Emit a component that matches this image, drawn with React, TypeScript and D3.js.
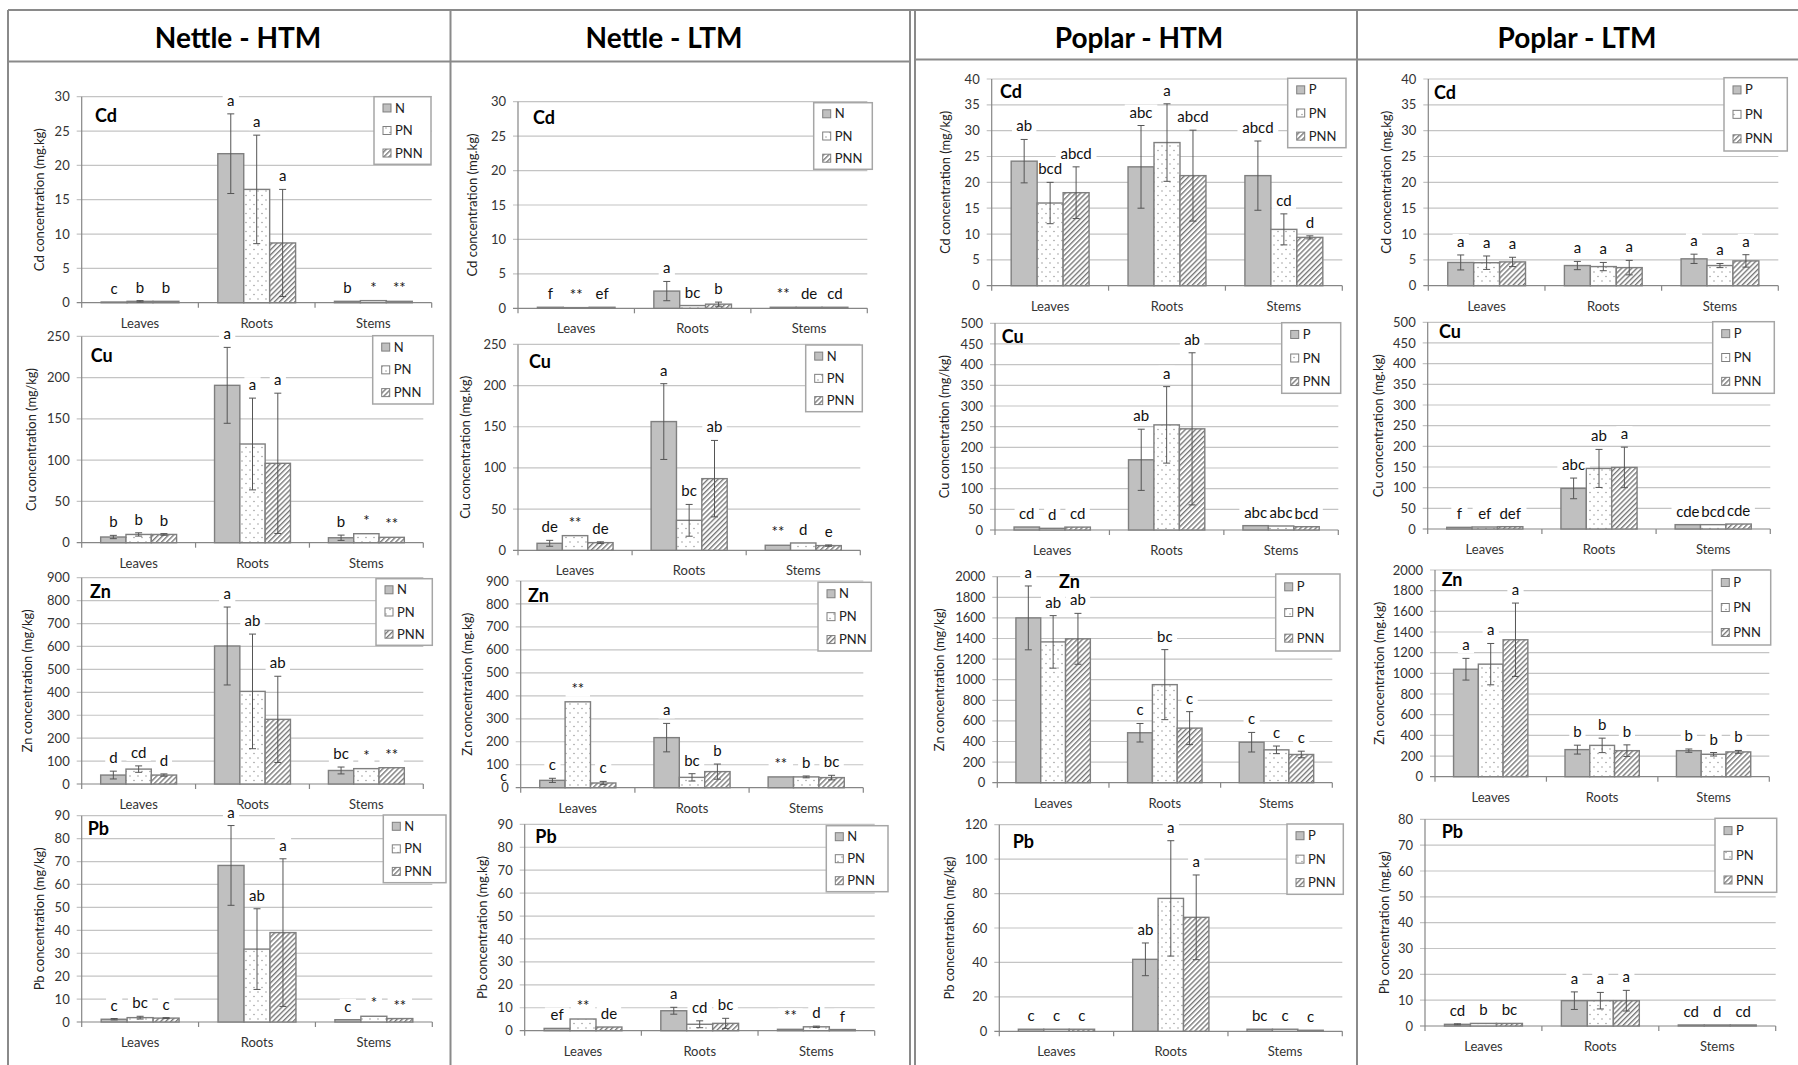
import React from "react";
import * as d3 from "d3";

// ---------------- DATA ----------------
const categories = ["Leaves", "Roots", "Stems"];
const nettleTreatments = ["N", "PN", "PNN"];
const poplarTreatments = ["P", "PN", "PNN"];
const columnTitles = ["Nettle - HTM", "Nettle - LTM", "Poplar - HTM", "Poplar - LTM"];
const metals = ["Cd", "Cu", "Zn", "Pb"];

const nettleHtmUnits = ["mg.kg", "mg/kg", "mg/kg", "mg/kg"];
const nettleLtmUnits = ["mg.kg", "mg.kg", "mg.kg", "mg.kg"];
const poplarHtmUnits = ["mg/kg", "mg/kg", "mg/kg", "mg/kg"];
const poplarLtmUnits = ["mg.kg", "mg.kg", "mg.kg", "mg.kg"];

const nettleAxisMax = [30, 250, 900, 90];
const nettleAxisStep = [5, 50, 100, 10];
const poplarHtmAxisMax = [40, 500, 2000, 120];
const poplarHtmAxisStep = [5, 50, 200, 20];
const poplarLtmAxisMax = [40, 500, 2000, 80];
const poplarLtmAxisStep = [5, 50, 200, 10];

// [metal][organ][treatment]
const nettleHtmMeans = [
  [[0.1, 0.2, 0.2], [21.7, 16.5, 8.7], [0.2, 0.3, 0.2]],
  [[6.9, 10, 10], [190.7, 119.6, 96.2], [6, 10.9, 6.5]],
  [[39, 65, 39], [602, 404, 282], [59, 67, 71]],
  [[1.2, 1.9, 1.7], [68.3, 31.8, 39], [1, 2.5, 1.5]],
];
const nettleHtmErrors = [
  [[0, 0.1, 0], [5.8, 7.9, 7.8], [0, 0, 0]],
  [[2, 2, 1], [46, 55.6, 85], [3.2, 0, 0]],
  [[17, 14, 5], [170, 250, 188], [15, 0, 0]],
  [[0.3, 0.6, 0.2], [17.4, 17.6, 32.2], [0, 0, 0]],
];
const nettleHtmLetters = [
  [["c", "b", "b"], ["a", "a", "a"], ["b", "*", "**"]],
  [["b", "b", "b"], ["a", "a", "a"], ["b", "*", "**"]],
  [["d", "cd", "d"], ["a", "ab", "ab"], ["bc", "*", "**"]],
  [["c", "bc", "c"], ["a", "ab", "a"], ["c", "*", "**"]],
];

const nettleLtmMeans = [
  [[0.15, 0.1, 0.15], [2.5, 0.4, 0.6], [0.15, 0.15, 0.15]],
  [[8.5, 17.8, 9.3], [156.3, 36.4, 87], [6.1, 8.9, 5.7]],
  [[32, 374, 20.5], [218, 45, 70], [47, 47, 44]],
  [[1, 5.1, 1.6], [8.7, 2.8, 3.2], [0.6, 1.7, 0.5]],
];
const nettleLtmErrors = [
  [[0, 0, 0], [1.4, 0, 0.3], [0, 0, 0]],
  [[3.6, 0, 1], [46, 19.3, 46.4], [0, 0, 0.8]],
  [[9, 0, 7], [62, 16, 33], [0, 4, 10]],
  [[0, 0, 0], [1.5, 1.5, 2.2], [0, 0.3, 0]],
];
const nettleLtmLetters = [
  [["f", "**", "ef"], ["a", "bc", "b"], ["**", "de", "cd"]],
  [["de", "**", "de"], ["a", "bc", "ab"], ["**", "d", "e"]],
  [["c", "**", "c"], ["a", "bc", "b"], ["**", "b", "bc"]],
  [["ef", "**", "de"], ["a", "cd", "bc"], ["**", "d", "f"]],
];
const nettleLtmZnStrayLetter = "c";

const poplarHtmMeans = [
  [[24.1, 16, 18], [23, 27.7, 21.3], [21.3, 10.9, 9.35]],
  [[7.2, 4, 7], [169.8, 254.3, 244.7], [10.5, 9.7, 8]],
  [[1600, 1367, 1397], [485, 952, 530], [393, 319, 274]],
  [[1.2, 1.2, 1.2], [41.8, 77.2, 66.2], [1.2, 1.2, 0.6]],
];
const poplarHtmErrors = [
  [[4.2, 4, 5], [8, 7.5, 8.8], [6.7, 3, 0.3]],
  [[0, 0, 0], [74, 92.5, 184], [0, 0, 0]],
  [[310, 255, 247], [90, 340, 160], [95, 37, 32]],
  [[0, 0, 0], [9.5, 33.5, 24.6], [0, 0, 0]],
];
const poplarHtmLetters = [
  [["ab", "bcd", "abcd"], ["abc", "a", "abcd"], ["abcd", "cd", "d"]],
  [["cd", "d", "cd"], ["ab", "a", "ab"], ["abc", "abc", "bcd"]],
  [["a", "ab", "ab"], ["c", "bc", "c"], ["c", "c", "c"]],
  [["c", "c", "c"], ["ab", "a", "a"], ["bc", "c", "c"]],
];

const poplarLtmMeans = [
  [[4.5, 4.45, 4.6], [3.9, 3.7, 3.5], [5.2, 3.9, 4.8]],
  [[4, 4.8, 5.6], [98.2, 146.5, 149], [10.5, 10.5, 12]],
  [[1040, 1089, 1325], [262, 303, 252], [252, 217, 240]],
  [[0.65, 1, 1], [9.8, 9.8, 9.8], [0.4, 0.4, 0.4]],
];
const poplarLtmErrors = [
  [[1.45, 1.3, 0.9], [0.8, 0.8, 1.4], [0.9, 0.4, 1.2]],
  [[0, 0, 0], [25, 46, 49], [0, 0, 0]],
  [[105, 200, 355], [43, 70, 56], [16, 17, 14]],
  [[0.2, 0, 0], [3.4, 3.2, 4], [0, 0, 0]],
];
const poplarLtmLetters = [
  [["a", "a", "a"], ["a", "a", "a"], ["a", "a", "a"]],
  [["f", "ef", "def"], ["abc", "ab", "a"], ["cde", "bcd", "cde"]],
  [["a", "a", "a"], ["b", "b", "b"], ["b", "b", "b"]],
  [["cd", "b", "bc"], ["a", "a", "a"], ["cd", "d", "cd"]],
];

const columns = [
  { title: columnTitles[0], treatments: nettleTreatments, units: nettleHtmUnits, max: nettleAxisMax, step: nettleAxisStep, means: nettleHtmMeans, errors: nettleHtmErrors, letters: nettleHtmLetters },
  { title: columnTitles[1], treatments: nettleTreatments, units: nettleLtmUnits, max: nettleAxisMax, step: nettleAxisStep, means: nettleLtmMeans, errors: nettleLtmErrors, letters: nettleLtmLetters },
  { title: columnTitles[2], treatments: poplarTreatments, units: poplarHtmUnits, max: poplarHtmAxisMax, step: poplarHtmAxisStep, means: poplarHtmMeans, errors: poplarHtmErrors, letters: poplarHtmLetters },
  { title: columnTitles[3], treatments: poplarTreatments, units: poplarLtmUnits, max: poplarLtmAxisMax, step: poplarLtmAxisStep, means: poplarLtmMeans, errors: poplarLtmErrors, letters: poplarLtmLetters },
];

// ---------------- LAYOUT ----------------
type Lay = { x0: number; x1: number; yTop: number; yZero: number; legend: number[]; label: number[]; titleX: number; stray?: { dx: number; value: number } };
const layouts: Lay[][] = [
  [
    { x0: 81.7, x1: 431.7, yTop: 96.7, yZero: 302.7, legend: [374, 96.7, 57, 67.6], label: [95, 121.7], titleX: 40 },
    { x0: 81.7, x1: 423.3, yTop: 336.4, yZero: 542.7, legend: [372.7, 335.7, 60.6, 68.3], label: [90.7, 361.7], titleX: 31.7 },
    { x0: 81.7, x1: 423.3, yTop: 577.7, yZero: 784, legend: [376, 578.7, 56.3, 66.6], label: [90, 598], titleX: 28 },
    { x0: 81.7, x1: 432.3, yTop: 815.7, yZero: 1022, legend: [383.3, 815, 62.7, 67.7], label: [87.7, 835], titleX: 40 },
  ],
  [
    { x0: 518, x1: 867.3, yTop: 101.7, yZero: 308.3, legend: [813.7, 102.7, 58.6, 66.6], label: [533, 124], titleX: 473 },
    { x0: 518, x1: 860.3, yTop: 344.4, yZero: 550.3, legend: [805.7, 345, 56.6, 66.7], label: [529, 368], titleX: 466 },
    { x0: 520.7, x1: 863.3, yTop: 581, yZero: 787.7, legend: [818, 582.3, 53.3, 68.7], label: [528, 601.7], titleX: 468, stray: { dx: -17, value: 30 } },
    { x0: 524.7, x1: 874.7, yTop: 824.3, yZero: 1030.7, legend: [826.3, 825.7, 61.7, 66], label: [535.3, 843.3], titleX: 483 },
  ],
  [
    { x0: 991.7, x1: 1342.3, yTop: 79, yZero: 285.7, legend: [1287.7, 78.3, 58.3, 69.4], label: [1000, 98.3], titleX: 946 },
    { x0: 995, x1: 1338.3, yTop: 323.3, yZero: 530, legend: [1281.7, 322.7, 59, 70.6], label: [1001.7, 343.3], titleX: 945 },
    { x0: 997.3, x1: 1332.3, yTop: 576.7, yZero: 782.7, legend: [1275.7, 574, 64.3, 77], label: [1059, 588.3], titleX: 940 },
    { x0: 999.3, x1: 1342.3, yTop: 824.7, yZero: 1031.3, legend: [1287, 824, 56.3, 70.3], label: [1012.7, 848.3], titleX: 950 },
  ],
  [
    { x0: 1428.3, x1: 1778.3, yTop: 79, yZero: 285.7, legend: [1724, 77.7, 63.3, 73.3], label: [1434, 99], titleX: 1386.7 },
    { x0: 1427.7, x1: 1770.3, yTop: 322.3, yZero: 529, legend: [1712.7, 321.7, 61.6, 71.6], label: [1439, 338.3], titleX: 1378.3 },
    { x0: 1435, x1: 1769.3, yTop: 570, yZero: 776.7, legend: [1712.3, 570, 58.4, 75], label: [1441.7, 585.7], titleX: 1380 },
    { x0: 1425, x1: 1775.7, yTop: 819.3, yZero: 1026, legend: [1715, 818.3, 61.7, 74], label: [1441.7, 838.3], titleX: 1384.3 },
  ],
];
const columnTitleX = [238, 664, 1139, 1577];

const FONT = "Lato, 'Open Sans', sans-serif";
const GRID = "#c4c4c4";
const AXIS = "#868686";
const BAR_STROKE = "#7f7f7f";
const fills = ["#c0c0c0", "url(#dots)", "url(#hatch)"];

function Panel({ col, m }: { col: number; m: number }) {
  const L = layouts[col][m];
  const c = columns[col];
  const max = c.max[m];
  const step = c.step[m];
  const y = d3.scaleLinear().domain([0, max]).range([L.yZero, L.yTop]);
  const xb = d3.scaleBand<string>().domain(categories).range([L.x0, L.x1]);
  const bw = xb.bandwidth() / 4.5;
  const xs = d3.scaleBand<number>().domain([0, 1, 2]).range([0.75 * bw, 3.75 * bw]);
  const ticks = d3.range(0, max + step / 2, step);
  const means = c.means[m];
  const errs = c.errors[m];
  const lets = c.letters[m];
  const [lx, ly, lw, lh] = L.legend;

  const bars: any[] = [];
  categories.forEach((cat, ci) => {
    [0, 1, 2].forEach((ti) => {
      const v = means[ci][ti];
      const e = errs[ci][ti];
      const bx = (xb(cat) as number) + (xs(ti) as number);
      const cx = bx + bw / 2;
      bars.push({ key: `${ci}-${ti}`, v, e, bx, cx, letter: lets[ci][ti], ti });
    });
  });

  const labelW = (s: string) => s.length * 8.2 + 8;

  return (
    <g>
      {ticks.map((t) => (
        <line key={"g" + t} x1={L.x0 - 5} x2={L.x1} y1={y(t)} y2={y(t)} stroke={t === 0 ? AXIS : GRID} strokeWidth={1.2} />
      ))}
      <line x1={L.x0} x2={L.x0} y1={L.yTop} y2={L.yZero} stroke={AXIS} strokeWidth={1.2} />
      {[...categories.map((cat) => xb(cat) as number), L.x1].map((x, i) => (
        <line key={"ct" + i} x1={x} x2={x} y1={L.yZero} y2={L.yZero + 5} stroke={AXIS} strokeWidth={1.2} />
      ))}
      {ticks.map((t) => (
        <text key={"t" + t} x={L.x0 - 12} y={y(t)} dy="0.35em" textAnchor="end" fontSize={13} fill="#333">
          {t}
        </text>
      ))}
      {categories.map((cat) => (
        <text key={cat} x={(xb(cat) as number) + xb.bandwidth() / 2} y={L.yZero + 25} textAnchor="middle" fontSize={13} fill="#333">
          {cat}
        </text>
      ))}
      <text
        transform={`translate(${L.titleX},${(L.yTop + L.yZero) / 2}) rotate(-90)`}
        textAnchor="middle"
        dy="0.35em"
        fontSize={12.5}
        textLength={143}
        lengthAdjust="spacingAndGlyphs"
        fill="#222"
      >
        {`${metals[m]} concentration (${c.units[m]})`}
      </text>
      {bars.map((b) => {
        const base = y(b.v + b.e) - 8;
        const w = labelW(b.letter);
        return <rect key={"lb" + b.key} x={b.cx - w / 2} y={base - 13} width={w} height={16} fill="#fff" />;
      })}
      {bars.map((b) => (
        <rect key={"b" + b.key} x={b.bx} y={y(b.v)} width={bw} height={L.yZero - y(b.v)} fill={fills[b.ti]} stroke={BAR_STROKE} strokeWidth={1.4} />
      ))}
      {bars
        .filter((b) => b.e > 0)
        .map((b) => {
          const top = y(b.v + b.e);
          const bot = y(Math.max(0, b.v - b.e));
          return (
            <g key={"e" + b.key} stroke="#555" strokeWidth={1}>
              <line x1={b.cx} x2={b.cx} y1={top} y2={bot} />
              <line x1={b.cx - 3.5} x2={b.cx + 3.5} y1={top} y2={top} />
              <line x1={b.cx - 3.5} x2={b.cx + 3.5} y1={bot} y2={bot} />
            </g>
          );
        })}
      {bars.map((b) => (
        <text key={"l" + b.key} x={b.cx} y={y(b.v + b.e) - 8} textAnchor="middle" fontSize={15} fill="#111">
          {b.letter}
        </text>
      ))}
      {L.stray && (
        <text x={L.x0 + L.stray.dx} y={y(L.stray.value)} textAnchor="middle" fontSize={14} fill="#111">
          {nettleLtmZnStrayLetter}
        </text>
      )}
      <text x={L.label[0]} y={L.label[1]} fontSize={18} fontWeight="bold" fill="#000">
        {metals[m]}
      </text>
      <rect x={lx} y={ly} width={lw} height={lh} fill="#fff" stroke="#a6a6a6" strokeWidth={1.5} />
      {c.treatments.map((tr, i) => {
        const iy = ly + lh * ((2 * i + 1) / 6);
        return (
          <g key={"lg" + tr}>
            <rect x={lx + 9} y={iy - 4} width={8} height={8} fill={fills[i]} stroke={BAR_STROKE} strokeWidth={1} />
            <text x={lx + 21} y={iy} dy="0.35em" fontSize={13} fill="#222">
              {tr}
            </text>
          </g>
        );
      })}
    </g>
  );
}

export default function App() {
  const FRAME = "#8a8a8a";
  return (
    <svg
      width={1798}
      height={1065}
      style={{ position: "absolute", left: 0, top: 0, background: "#fff", display: "block" }}
      fontFamily={FONT}
    >
      <defs>
        <pattern id="dots" width={8} height={9} patternUnits="userSpaceOnUse">
          <rect width={8} height={9} fill="#fff" />
          <circle cx={2} cy={2} r={0.7} fill="#8c8c8c" />
          <circle cx={6} cy={6.5} r={0.7} fill="#8c8c8c" />
        </pattern>
        <pattern id="hatch" width={3.6} height={3.6} patternUnits="userSpaceOnUse" patternTransform="rotate(45)">
          <rect width={3.6} height={3.6} fill="#fff" />
          <line x1={0.7} y1={0} x2={0.7} y2={3.6} stroke="#707070" strokeWidth={1.3} />
        </pattern>
      </defs>
      <rect width={1798} height={1065} fill="#fff" />
      <g stroke={FRAME} strokeWidth={2} fill="none">
        <line x1={8} x2={1798} y1={10} y2={10} />
        <line x1={8} x2={910} y1={61.5} y2={61.5} />
        <line x1={915} x2={1798} y1={59.5} y2={59.5} />
        {[8, 450.5, 910, 915, 1357].map((x) => (
          <line key={x} x1={x} x2={x} y1={10} y2={1065} />
        ))}
      </g>
      {columns.map((c, ci) => (
        <text key={c.title} x={columnTitleX[ci]} y={48} textAnchor="middle" fontSize={28} fontWeight="bold" fill="#000">
          {c.title}
        </text>
      ))}
      {columns.map((c, ci) => (
        <g key={"col" + ci}>
          {metals.map((mt, mi) => (
            <Panel key={mt} col={ci} m={mi} />
          ))}
        </g>
      ))}
    </svg>
  );
}
